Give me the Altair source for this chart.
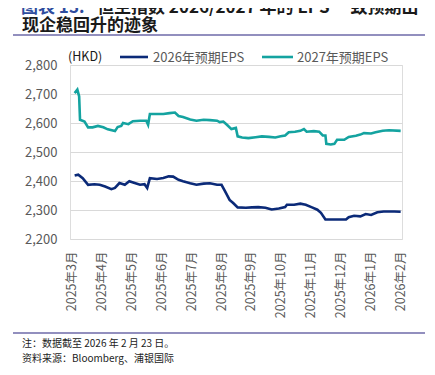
import altair as alt
import pandas as pd

# ---- data ----
# x: calendar days since 2025-02-24 (data ends 2026-02-23)
days_2026 = [0, 4, 9, 15, 22, 28, 34, 41, 45, 50, 56, 61, 67, 73, 78, 81, 84, 92, 99, 105,
             110, 116, 121, 129, 136, 144, 151, 159, 164, 168, 173, 177, 182, 191, 198, 205,
             213, 220, 228, 235, 237, 245, 252, 258, 265, 271, 275, 280, 290, 303, 306, 312,
             319, 325, 331, 338, 345, 357, 364]
eps_2026 = [2419, 2422, 2410, 2387, 2389, 2387, 2381, 2372, 2376, 2393, 2387, 2399, 2393, 2387,
            2389, 2376, 2410, 2407, 2410, 2416, 2415, 2404, 2399, 2392, 2387, 2391, 2392, 2387,
            2387, 2364, 2335, 2324, 2309, 2308, 2309, 2310, 2308, 2302, 2305, 2310, 2318, 2318,
            2322, 2318, 2309, 2301, 2290, 2267, 2267, 2267, 2275, 2280, 2278, 2286, 2283, 2292,
            2295, 2295, 2294]

days_2027 = [0, 3, 5, 6, 11, 15, 20, 26, 32, 37, 45, 48, 52, 54, 60, 65, 73, 80, 82, 84,
             92, 99, 106, 112, 116, 121, 129, 136, 144, 151, 159, 162, 166, 170, 175, 180, 182,
             187, 194, 202, 209, 217, 224, 230, 235, 239, 246, 252, 256, 259, 267, 273, 277,
             280, 281, 286, 290, 293, 301, 306, 314, 319, 323, 331, 336, 344, 351, 364]
eps_2027 = [2703, 2715, 2692, 2611, 2605, 2585, 2585, 2590, 2585, 2578, 2572, 2586, 2590, 2600,
            2596, 2606, 2608, 2608, 2594, 2631, 2631, 2631, 2634, 2636, 2624, 2621, 2612, 2608,
            2611, 2610, 2608, 2603, 2605, 2594, 2579, 2583, 2554, 2550, 2548, 2551, 2554, 2552,
            2550, 2554, 2557, 2568, 2570, 2573, 2579, 2570, 2572, 2570, 2557, 2557, 2528, 2526,
            2528, 2542, 2542, 2552, 2556, 2560, 2565, 2564, 2568, 2573, 2575, 2573]

series_names = ["2026年预期EPS", "2027年预期EPS"]
series_colors = ["#0B2A78", "#14A3A0"]

month_labels = ["2025年3月", "2025年4月", "2025年5月", "2025年6月", "2025年7月", "2025年8月",
                "2025年9月", "2025年10月", "2025年11月", "2025年12月", "2026年1月", "2026年2月"]
y_ticks = [2200, 2300, 2400, 2500, 2600, 2700, 2800]

title_tag = "图表 13:"
title_line1 = "恒生指数 2026/2027 年的 EPS 一致预期出"
title_line2 = "现企稳回升的迹象"
unit_label = "(HKD)"
note_text = "注：数据截至 2026 年 2 月 23 日。"
source_text = "资料来源：Bloomberg、浦银国际"

# ---- build table ----
df = pd.concat([
    pd.DataFrame({"day": days_2026, "eps": eps_2026, "series": series_names[0]}),
    pd.DataFrame({"day": days_2027, "eps": eps_2027, "series": series_names[1]}),
], ignore_index=True)

FONT = "Noto Sans CJK SC"
tick_step = 33.3
tick_start = -3.0
x_tick_vals = [round(tick_start + i * tick_step, 2) for i in range(len(month_labels))]
label_js = "[" + ",".join("'" + m + "'" for m in month_labels) + "]"

W, H = 332, 174

lines = alt.Chart(df).mark_line(strokeWidth=2.6).encode(
    x=alt.X("day:Q", scale=alt.Scale(domain=[-5.2, 365.5], nice=False, zero=False),
            axis=alt.Axis(values=x_tick_vals, labelExpr=label_js + f"[round((datum.value - ({tick_start})) / {tick_step})]",
                          labelAngle=-90, labelPadding=12, labelFontSize=12.5, labelFont=FONT,
                          labelColor="#595959", ticks=False, domain=False, grid=False, title=None)),
    y=alt.Y("eps:Q", scale=alt.Scale(domain=[2200, 2800], nice=False, zero=False),
            axis=alt.Axis(values=y_ticks, format=",.0f", labelPadding=13, labelFontSize=13, labelFont=FONT,
                          labelColor="#595959", ticks=False, domain=False, grid=True,
                          gridColor="#D9D9D9", gridWidth=1.2, title=None)),
    color=alt.Color("series:N", scale=alt.Scale(domain=series_names, range=series_colors), legend=None),
)

def txt(s, x, y, size, color, weight="normal", align="left"):
    return alt.Chart(pd.DataFrame({"t": [s]})).mark_text(
        align=align, baseline="alphabetic", fontSize=size, font=FONT, fontWeight=weight, color=color
    ).encode(text="t:N", x=alt.value(x), y=alt.value(y))

def hrule(x1, x2, y, color, width):
    return alt.Chart(pd.DataFrame({"a": [0]})).mark_rule(color=color, strokeWidth=width).encode(
        x=alt.value(x1), x2=alt.value(x2), y=alt.value(y))

# title
t1a = txt(title_tag, -49, -52, 17, "#2E4C9E", "bold")
t1b = txt(title_line1, 27, -52, 17, "#1a1a1a", "bold")
t2 = txt(title_line2, -48, -34, 17, "#1a1a1a", "bold")
r_top = hrule(-57, 355, -30, "#6E6AA8", 1.5)

# legend
unit = txt(unit_label, -2, -4, 12.5, "#1a1a1a")
lg1 = hrule(50, 78, -8, series_colors[0], 2.6)
lg1t = txt(series_names[0], 83, -3.5, 13, "#595959")
lg2 = hrule(192, 223, -8, series_colors[1], 2.6)
lg2t = txt(series_names[1], 227, -3.5, 13, "#595959")

# footer
r_bot = hrule(-57, 355, 268, "#6E6AA8", 1.5)
n1 = txt(note_text, -48, 282, 10, "#222222")
n2 = txt(source_text, -48, 297, 10, "#222222")

chart = alt.layer(
    lines, t1a, t1b, t2, r_top, unit, lg1, lg1t, lg2, lg2t, r_bot, n1, n2
).properties(
    width=W, height=H,
    autosize=alt.AutoSizeParams(type="none"),
    padding={"left": 62, "top": 57, "right": 25, "bottom": 128},
).configure_view(stroke=None).configure(background="white")

chart.save("out.html", embed_options={"renderer": "svg", "actions": False})
